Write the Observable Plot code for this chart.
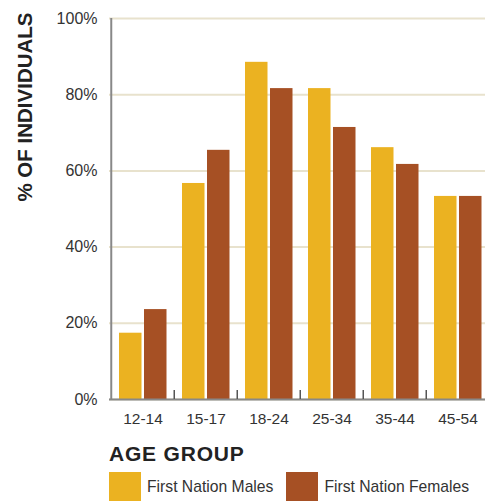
<!DOCTYPE html>
<html>
<head>
<meta charset="utf-8">
<script src="https://cdn.jsdelivr.net/npm/d3@7"></script>
<script src="https://cdn.jsdelivr.net/npm/@observablehq/plot@0.6"></script>
<style>
  html, body { margin: 0; padding: 0; background: #fff; }
  body { width: 485px; height: 501px; position: relative; overflow: hidden; font-family: "Liberation Sans", Arial, Helvetica, sans-serif; }
  #chart { position: absolute; left: 0; top: 0; }
  #xtitle { position: absolute; left: 109px; top: 442px; font-size: 21px; font-weight: bold; color: #222; letter-spacing: 0.8px; line-height: 24px; }
  #legend { position: absolute; left: 109px; top: 472px; display: flex; align-items: center; height: 29px; }
  .sw { width: 32px; height: 29px; margin-right: 6px; }
  .lab { font-size: 15.7px; color: #333; margin-right: 13px; }
</style>
</head>
<body>
<div id="chart"></div>
<div id="xtitle">AGE GROUP</div>
<div id="legend"></div>
<script>
const ages = ["12-14", "15-17", "18-24", "25-34", "35-44", "45-54"];
const males = [17.4, 56.7, 88.5, 81.6, 66.1, 53.3];
const females = [23.6, 65.4, 81.6, 71.4, 61.7, 53.3];
const yTicks = [0, 20, 40, 60, 80, 100];
const seriesNames = ["First Nation Males", "First Nation Females"];
const seriesColors = ["#EBB221", "#A65024"];
const yTitle = "% OF INDIVIDUALS";

const rows = ages.flatMap((a, i) => [
  {age: a, series: seriesNames[0], value: males[i]},
  {age: a, series: seriesNames[1], value: females[i]}
]);
const maleRows = rows.filter(d => d.series === seriesNames[0]);
const femaleRows = rows.filter(d => d.series === seriesNames[1]);

const halfStep = (490 - 109) / ages.length / 2;

const plot = Plot.plot({
  width: 485,
  height: 432,
  marginLeft: 109,
  marginRight: 0,
  marginTop: 18,
  marginBottom: 33,
  style: {fontFamily: '"Liberation Sans", Arial, Helvetica, sans-serif', fontSize: "16px", color: "#333", background: "transparent", overflow: "visible"},
  x: {domain: ages, range: [109, 490], padding: 0},
  y: {domain: [0, 100]},
  marks: [
    Plot.gridY(yTicks, {stroke: "#E8E2CD", strokeOpacity: 1, strokeWidth: 2}),
    Plot.barY(maleRows, {x: "age", y: "value", fill: seriesColors[0], insetLeft: 8, insetRight: 32.5}),
    Plot.barY(femaleRows, {x: "age", y: "value", fill: seriesColors[1], insetLeft: 33, insetRight: 7.5}),
    Plot.ruleY([0], {stroke: "#888", strokeWidth: 2}),
    Plot.ruleX([ages[0]], {dx: -halfStep, stroke: "#888", strokeWidth: 2}),
    Plot.ruleX(ages.slice(1), {dx: -halfStep, y1: 0, y2: 0, insetTop: -9, stroke: "#555", strokeWidth: 1.5}),
    Plot.axisY({ticks: yTicks, tickFormat: d => d + "%", tickSize: 0, tickPadding: 12, fontSize: 16, fill: "#333", label: null}),
    Plot.axisX({tickSize: 0, tickPadding: 13, fontSize: 15.5, fill: "#333", label: null}),
    Plot.text([yTitle], {frameAnchor: "top-left", dx: -84, dy: -6, rotate: -90, textAnchor: "end", lineAnchor: "middle", fontSize: 20.5, fontWeight: "bold", fill: "#222", letterSpacing: "-0.5px"})
  ]
});
document.getElementById("chart").appendChild(plot);

const legend = document.getElementById("legend");
seriesNames.forEach((name, i) => {
  const sw = document.createElement("div");
  sw.className = "sw";
  sw.style.background = seriesColors[i];
  const lab = document.createElement("span");
  lab.className = "lab";
  lab.textContent = name;
  legend.appendChild(sw);
  legend.appendChild(lab);
});
</script>
</body>
</html>
